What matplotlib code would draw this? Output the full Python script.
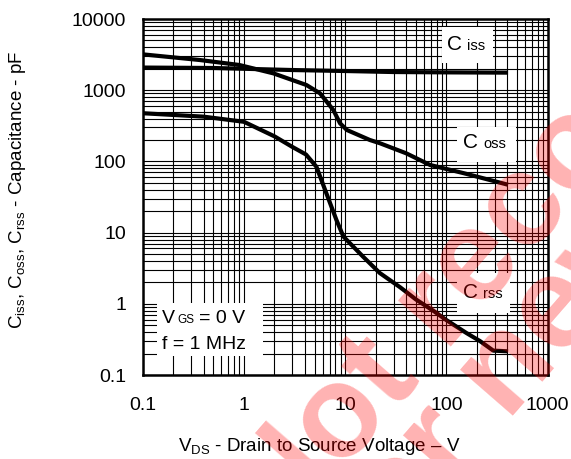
import numpy as np
import matplotlib
matplotlib.use('Agg')
from matplotlib import pyplot as plt
from matplotlib.patches import Rectangle

plt.rcParams['font.family'] = ['Liberation Sans', 'DejaVu Sans']
plt.rcParams['mathtext.fontset'] = 'custom'
plt.rcParams['mathtext.rm'] = 'Liberation Sans'

# 数据
vds_ciss = [0.1, 0.5, 1, 3, 10, 30, 100, 406]
ciss = [2080, 2050, 2000, 1920, 1860, 1800, 1780, 1765]

vds_coss = [0.1, 0.37, 0.9, 1.95, 4.14, 5.64, 7.63, 8.89, 10.4, 17.5, 22, 40, 69, 150, 406]
coss = [3190, 2650, 2260, 1725, 1183, 904, 527, 343, 276, 200, 180, 130, 89, 68, 47]

vds_crss = [0.1, 0.4, 1, 2, 3, 4.1, 5.2, 6.5, 8.2, 9.6, 15, 22, 35, 50, 74, 100, 157, 214, 290, 406]
crss = [475, 425, 360, 225, 160, 125, 84, 36, 15, 8.8, 4.6, 2.7, 1.7, 1.15, 0.8, 0.59, 0.39, 0.3, 0.22, 0.215]

x_ticks = [0.1, 1, 10, 100, 1000]
x_ticklabels = ['0.1', '1', '10', '100', '1000']
y_ticks = [0.1, 1, 10, 100, 1000, 10000]
y_ticklabels = ['0.1', '1', '10', '100', '1000', '10000']

fig = plt.figure(figsize=(5.71, 4.59), dpi=100)
ax = fig.add_axes([0.2499, 0.183, 0.7093, 0.7756])

ax.set_xscale('log')
ax.set_yscale('log')
ax.set_xlim(0.1, 1000)
ax.set_ylim(0.1, 10000)
ax.set_axisbelow(True)
ax.grid(True, which='both', color='black', lw=0.8)

ax.set_xticks(x_ticks)
ax.set_xticklabels(x_ticklabels)
ax.set_yticks(y_ticks)
ax.set_yticklabels(y_ticklabels)
ax.tick_params(which='both', length=0, labelsize=14)
ax.tick_params(axis='x', pad=16)
ax.tick_params(axis='y', pad=12)
for s in ax.spines.values():
    s.set_linewidth(1.8)

# 曲线
for xs, ys in [(vds_ciss, ciss), (vds_coss, coss), (vds_crss, crss)]:
    ax.plot(xs, ys, color='black', lw=3, solid_capstyle='butt', zorder=3)

# 白底标签框
boxes = [(0.739, 0.876, 0.126, 0.1015),
         (0.776, 0.598, 0.146, 0.099),
         (0.776, 0.174, 0.131, 0.113),
         (0.035, 0.053, 0.262, 0.149)]
for bx, by, bw, bh in boxes:
    ax.add_patch(Rectangle((bx, by), bw, bh, transform=ax.transAxes,
                           facecolor='white', edgecolor='none', zorder=1))

# 曲线名称
for cx, sx, by, sub in [(0.751, 0.800, 0.913, 'iss'),
                        (0.7916, 0.841, 0.637, 'oss'),
                        (0.7916, 0.841, 0.2154, 'rss')]:
    ax.text(cx, by, 'C', transform=ax.transAxes, fontsize=15, va='baseline', zorder=4)
    ax.text(sx, by, sub, transform=ax.transAxes, fontsize=10.5, va='baseline', zorder=4)

# 测试条件
ax.text(0.0484, 0.145, 'V', transform=ax.transAxes, fontsize=14, va='baseline', zorder=4)
ax.text(0.0844, 0.145, 'GS', transform=ax.transAxes, fontsize=8.5, va='baseline', zorder=4)
ax.text(0.138, 0.145, '= 0 V', transform=ax.transAxes, fontsize=14, va='baseline', zorder=4)
ax.text(0.0484, 0.072, 'f = 1 MHz', transform=ax.transAxes, fontsize=14, va='baseline', zorder=4)

ax.set_xlabel(r'V$_{\mathregular{DS}}$ - Drain to Source Voltage – V', fontsize=13.5)
ax.xaxis.set_label_coords(0.437, -0.202)
ax.xaxis.label.set_va('center')
ax.set_ylabel(r'C$_{\mathregular{iss}}$, C$_{\mathregular{oss}}$, C$_{\mathregular{rss}}$ - Capacitance - pF',
              fontsize=13.5)
ax.yaxis.set_label_coords(-0.308, 0.52)
ax.yaxis.label.set_va('center')

# 水印
fig.text(0.488, -0.185, 'Not recommended', fontsize=94, weight='bold', color='red', alpha=0.3,
         rotation=49, rotation_mode='anchor', ha='left', va='baseline')
fig.text(0.648, -0.264, 'for new design', fontsize=94, weight='bold', color='red', alpha=0.3,
         rotation=49, rotation_mode='anchor', ha='left', va='baseline')

fig.savefig('out.png', dpi=100)
